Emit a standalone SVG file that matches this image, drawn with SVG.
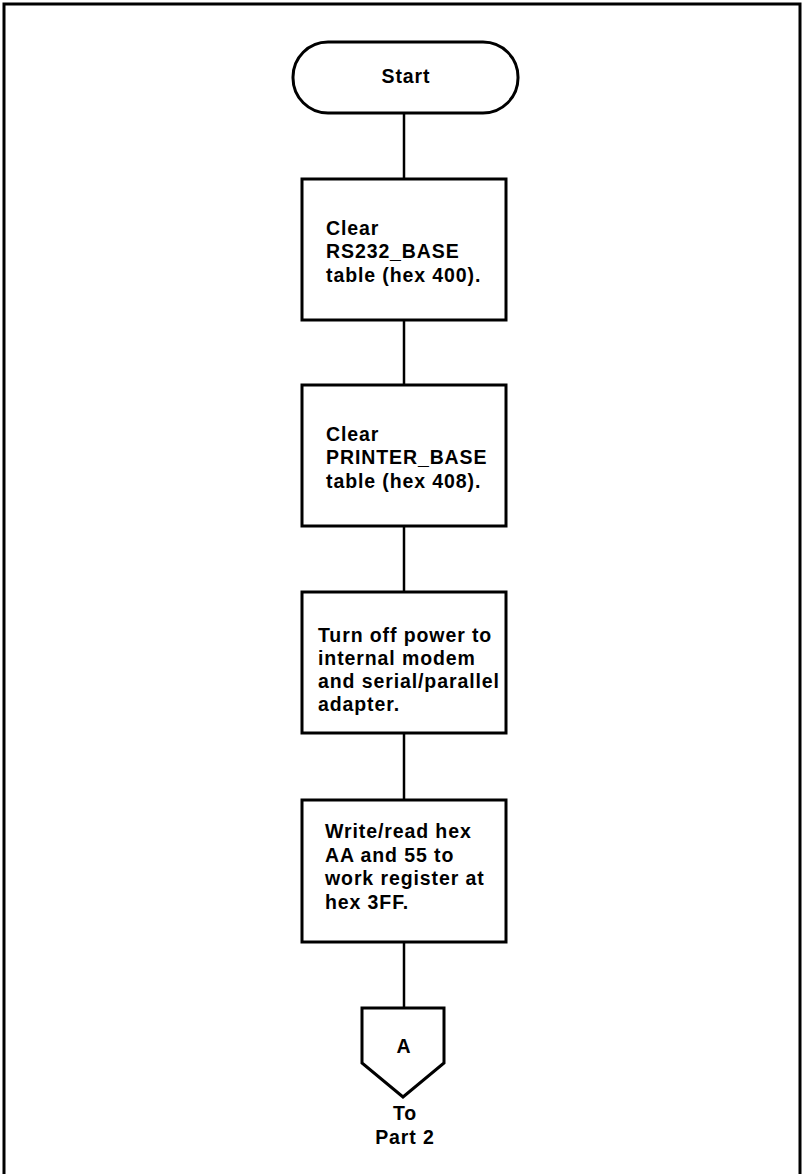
<svg xmlns="http://www.w3.org/2000/svg" width="802" height="1174" viewBox="0 0 802 1174">
  <style>
    .shape { fill: #fff; stroke: #000; stroke-width: 3; stroke-linejoin: miter; }
    .link { stroke: #000; stroke-width: 2.5; fill: none; }
    .label { font-family: "Liberation Sans", Arial, sans-serif; font-weight: bold; font-size: 19.5px; letter-spacing: 0.9px; fill: #000; }
    .mid { text-anchor: middle; }
  </style>
  <rect width="802" height="1174" fill="#fff"/>
  <!-- page frame (open at the bottom) -->
  <path d="M4,1174 V4 H800 V1174" fill="none" stroke="#000" stroke-width="3"/>

  <g id="connectors">
    <line class="link" x1="404" y1="113" x2="404" y2="179"/>
    <line class="link" x1="404" y1="320" x2="404" y2="385"/>
    <line class="link" x1="404" y1="526" x2="404" y2="592"/>
    <line class="link" x1="404" y1="733" x2="404" y2="800"/>
    <line class="link" x1="404" y1="942" x2="404" y2="1008"/>
  </g>

  <g id="start">
    <rect class="shape" x="293" y="42" width="225" height="71" rx="35" ry="35"/>
    <text class="label mid" x="406" y="83" font-size="20" letter-spacing="1.2">Start</text>
  </g>

  <g id="clear-rs232">
    <rect class="shape" x="302" y="179" width="204" height="141"/>
    <text class="label" x="326" y="235">Clear</text>
    <text class="label" x="326" y="258">RS232_BASE</text>
    <text class="label" x="326" y="282">table (hex 400).</text>
  </g>

  <g id="clear-printer">
    <rect class="shape" x="302" y="385" width="204" height="141"/>
    <text class="label" x="326" y="441">Clear</text>
    <text class="label" x="326" y="464">PRINTER_BASE</text>
    <text class="label" x="326" y="488">table (hex 408).</text>
  </g>

  <g id="power-off">
    <rect class="shape" x="302" y="592" width="204" height="141"/>
    <text class="label" x="318" y="642">Turn off power to</text>
    <text class="label" x="318" y="665">internal modem</text>
    <text class="label" x="318" y="688">and serial/parallel</text>
    <text class="label" x="318" y="711">adapter.</text>
  </g>

  <g id="work-register">
    <rect class="shape" x="302" y="800" width="204" height="142"/>
    <text class="label" x="325" y="838">Write/read hex</text>
    <text class="label" x="325" y="862">AA and 55 to</text>
    <text class="label" x="325" y="885">work register at</text>
    <text class="label" x="325" y="909">hex 3FF.</text>
  </g>

  <g id="offpage-a">
    <polygon class="shape" points="362,1008 444,1008 444,1063 403,1097 362,1063"/>
    <text class="label mid" x="404" y="1053">A</text>
    <text class="label mid" x="405" y="1120">To</text>
    <text class="label mid" x="405" y="1144">Part 2</text>
  </g>
</svg>
